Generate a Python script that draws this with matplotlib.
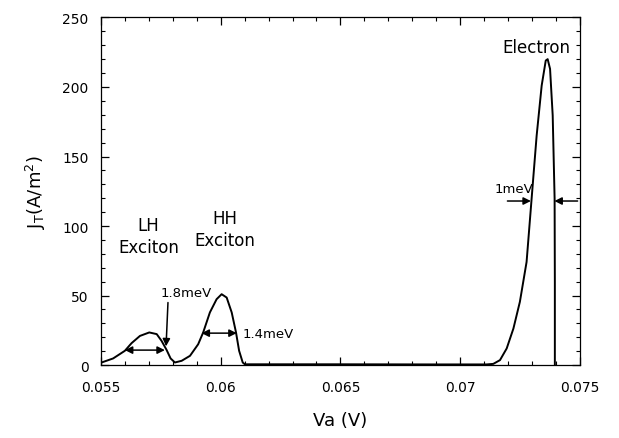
import matplotlib
matplotlib.use("Agg")
import matplotlib.pyplot as plt
from matplotlib.ticker import MultipleLocator, FixedLocator, FixedFormatter

# Current density J_T vs applied voltage Va
va = [0.05503, 0.05551, 0.0560, 0.05628, 0.05663, 0.05702, 0.05733, 0.05753,
      0.05774, 0.05791, 0.05809, 0.05837, 0.05872, 0.05906, 0.05927, 0.05955,
      0.05983, 0.06004, 0.06025, 0.06046, 0.06064, 0.06077, 0.06092, 0.06101,
      0.0615, 0.0650, 0.0690, 0.0711, 0.07138, 0.07166, 0.07194, 0.07222,
      0.07249, 0.07277, 0.07298, 0.07319, 0.0734, 0.07357, 0.07365, 0.07375,
      0.07386, 0.07394, 0.07395, 0.07395]
jt = [1.9, 4.8, 10.3, 15.8, 21.0, 23.5, 22.3, 17.5,
      11.0, 4.8, 1.9, 3.1, 6.7, 15.0, 23.5, 37.9,
      47.4, 51.0, 48.6, 37.9, 23.5, 10.3, 1.9, 0.6,
      0.6, 0.6, 0.5, 0.5, 0.9, 3.6, 12.0, 26.3,
      45.5, 74.2, 119.7, 165.0, 201.0, 219.0, 220.0, 213.0,
      179.6, 119.7, 60.0, 0.0]

x_ticks = [0.055, 0.06, 0.065, 0.07, 0.075]
x_tick_labels = ["0.055", "0.06", "0.065", "0.07", "0.075"]
y_ticks = [0, 50, 100, 150, 200, 250]

fig = plt.figure(figsize=(6.19, 4.39), dpi=100)
ax = fig.add_axes([0.163, 0.166, 0.774, 0.792])
ax.plot(va, jt, color="black", lw=1.4, solid_joinstyle="round")

ax.set_xlim(0.055, 0.075)
ax.set_ylim(0, 250)
ax.xaxis.set_major_locator(FixedLocator(x_ticks))
ax.xaxis.set_major_formatter(FixedFormatter(x_tick_labels))
ax.xaxis.set_minor_locator(MultipleLocator(0.001))
ax.yaxis.set_major_locator(FixedLocator(y_ticks))
ax.yaxis.set_minor_locator(MultipleLocator(10))
ax.tick_params(which="both", direction="in", top=True, right=True, labelsize=10)
ax.tick_params(which="major", length=6, width=0.9)
ax.tick_params(axis="x", which="major", pad=11)
ax.tick_params(axis="y", which="major", pad=9)
ax.tick_params(which="minor", length=3, width=0.8)
for s in ax.spines.values():
    s.set_linewidth(0.9)

ax.set_xlabel("Va (V)", fontsize=13, labelpad=12)
ax.set_ylabel(r"J$_\mathregular{T}$(A/m$^\mathregular{2}$)", fontsize=13, labelpad=10)

# annotations
ax.text(0.05698, 93, "LH\nExciton", ha="center", va="center", fontsize=12, linespacing=1.3)
ax.text(0.06019, 98, "HH\nExciton", ha="center", va="center", fontsize=12, linespacing=1.3)
ax.text(0.07318, 229, "Electron", ha="center", va="center", fontsize=12)
ax.text(0.05855, 52, "1.8meV", ha="center", va="center", fontsize=9.5)
ax.text(0.0609, 23, "1.4meV", ha="left", va="center", fontsize=9.5)
ax.text(0.07225, 127, "1meV", ha="center", va="center", fontsize=9.5)

arr = dict(arrowstyle="<|-|>", color="black", lw=1.1, mutation_scale=11, shrinkA=0, shrinkB=0)
one = dict(arrowstyle="-|>", color="black", lw=1.1, mutation_scale=11, shrinkA=0, shrinkB=0)
ax.annotate("", xy=(0.05767, 10.8), xytext=(0.0560, 10.8), arrowprops=arr)
ax.annotate("", xy=(0.06067, 23), xytext=(0.0592, 23), arrowprops=arr)
ax.annotate("", xy=(0.05772, 13.5), xytext=(0.0578, 45), arrowprops=one)
ax.annotate("", xy=(0.07295, 118), xytext=(0.07197, 118), arrowprops=one)
ax.annotate("", xy=(0.07393, 118), xytext=(0.0749, 118), arrowprops=one)

fig.savefig("out.png", dpi=100)
